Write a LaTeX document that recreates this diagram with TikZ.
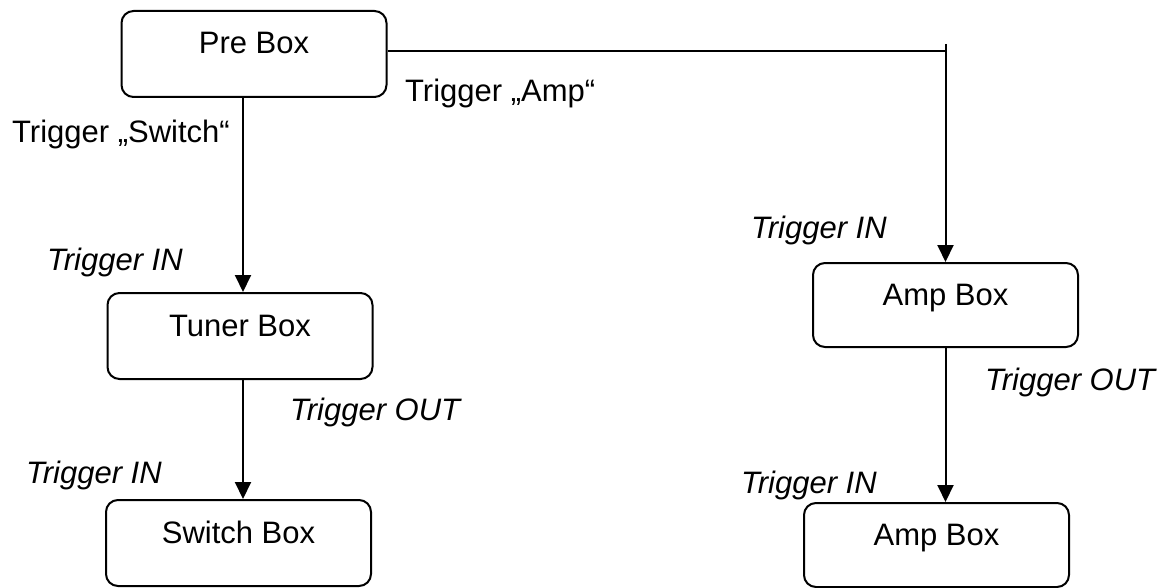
\documentclass[tikz,border=0pt]{standalone}
\usepackage{fontspec}
\setmainfont{Liberation Sans}
\usetikzlibrary{arrows.meta}
\begin{document}
\begin{tikzpicture}[x=1pt,y=-1pt,
  font=\fontsize{31}{36}\selectfont,
  boxnode/.style={draw, rounded corners=12pt, line width=2pt, minimum width=265pt,
    minimum height=86pt, text height=22pt, text depth=22pt, inner sep=0pt},
  conn/.style={line width=2pt},
  arr/.style={line width=2pt, -{Triangle[length=17pt,width=16pt]}},
  lbl/.style={anchor=base west, inner sep=0pt},
  ilbl/.style={lbl, font=\fontsize{31}{36}\selectfont\itshape}]
\useasboundingbox (0,0) rectangle (1167,588);
\node[boxnode] (pre) at (254,54) {Pre Box};
\node[boxnode] (tuner) at (240,336) {Tuner Box};
\node[boxnode] (switch) at (238.5,543) {Switch Box};
\node[boxnode, minimum height=84pt] (amp1) at (945.5,305) {Amp Box};
\node[boxnode, minimum height=84pt] (amp2) at (936.5,545) {Amp Box};
\coordinate (xl) at (243,0);
\coordinate (xr) at (945.5,0);
\coordinate (tick) at (945.5,44);
\draw[conn] ([yshift=3pt]pre.east) -- ([yshift=3pt]pre.east -| xr);
\draw[arr] (tick) -- (amp1.north -| xr);
\draw[arr] (pre.south -| xl) -- (tuner.north -| xl);
\draw[arr] (tuner.south -| xl) -- (switch.north -| xl);
\draw[arr] (amp1.south -| xr) -- (amp2.north -| xr);
\node[lbl] (tamp) at (405,102) {Trigger „Amp“};
\node[lbl] (tsw) at (12,143) {Trigger „Switch“};
\node[ilbl] (in1) at (47,270) {Trigger IN};
\node[ilbl] (out1) at (290,420) {Trigger OUT};
\node[ilbl] (in2) at (26,483) {Trigger IN};
\node[ilbl] (in3) at (751,238) {Trigger IN};
\node[ilbl] (out2) at (985,390) {Trigger OUT};
\node[ilbl] (in4) at (741,493) {Trigger IN};
\end{tikzpicture}
\end{document}
